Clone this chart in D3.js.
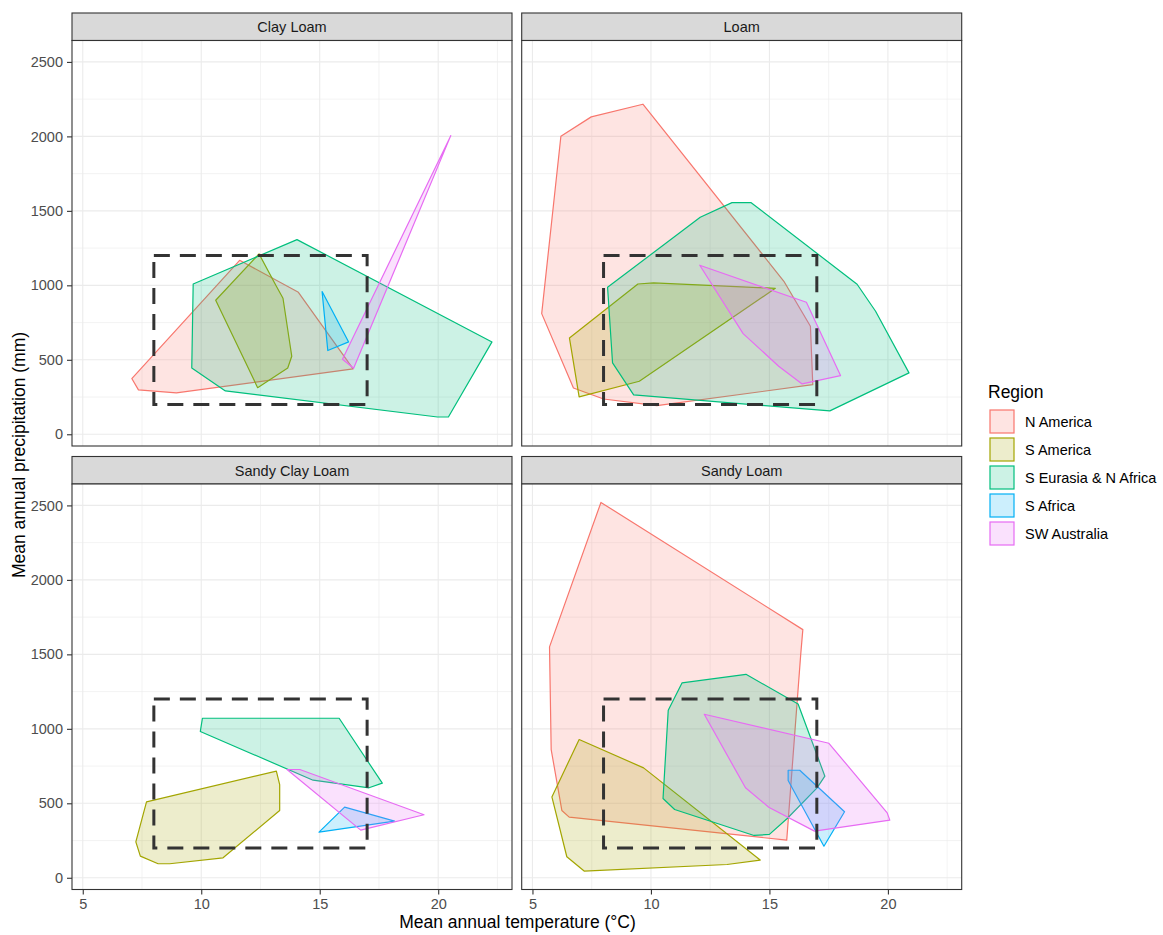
<!DOCTYPE html>
<html>
<head>
<meta charset="utf-8">
<script src="https://cdn.jsdelivr.net/npm/d3@7"></script>
<style>
    body { margin: 0; background: #fff; font-family: "Liberation Sans", Arial, sans-serif; }
</style>
</head>
<body>
<div id="chart"></div>
<script>
// soil texture facets and regions
var facets = ["Clay Loam", "Loam", "Sandy Clay Loam", "Sandy Loam"];
var regions = ["N America", "S America", "S Eurasia & N Africa", "S Africa", "SW Australia"];
var xTicks = [5, 10, 15, 20];
var yTicks = [0, 500, 1000, 1500, 2000, 2500];
var boxTemp = [8, 17];
var boxPrecip = [200, 1200];

// convex hulls [temperature, precipitation]
var hullsClayLoam = [
    { region: "N America", pts: [[7.07, 374], [7.35, 298], [8.95, 278], [16.41, 439], [14.10, 953], [11.62, 1168]] },
    { region: "S America", pts: [[10.61, 900], [12.44, 1211], [13.17, 994], [13.45, 913], [13.82, 524], [13.65, 445], [12.38, 313]] },
    { region: "S Eurasia & N Africa", pts: [[9.66, 1009], [14.04, 1307], [22.27, 620], [20.43, 116], [19.97, 116], [11.02, 291], [9.60, 445]] },
    { region: "S Africa", pts: [[15.10, 958], [16.22, 620], [15.34, 562]] },
    { region: "SW Australia", pts: [[15.96, 504], [16.43, 443], [20.53, 2005]] }
];
var hullsLoam = [
    { region: "N America", pts: [[5.39, 810], [6.20, 2001], [7.48, 2131], [9.66, 2216], [15.61, 1027], [16.73, 725], [16.83, 333], [10.25, 192], [8.0, 237], [6.73, 311]] },
    { region: "S America", pts: [[6.56, 647], [9.45, 1009], [10.11, 1016], [15.25, 980], [9.51, 356], [6.97, 251]] },
    { region: "S Eurasia & N Africa", pts: [[8.17, 987], [12.08, 1457], [13.42, 1555], [14.23, 1555], [18.70, 1007], [19.48, 826], [20.89, 412], [17.55, 157], [9.27, 264], [8.38, 479]] },
    { region: "SW Australia", pts: [[12.06, 1135], [16.56, 886], [18.0, 394], [16.38, 338], [15.39, 457], [13.89, 676]] }
];
var hullsSandyClayLoam = [
    { region: "S America", pts: [[7.69, 510], [13.17, 716], [13.31, 626], [13.31, 452], [10.92, 134], [8.67, 94], [8.18, 94], [7.43, 145], [7.24, 241]] },
    { region: "S Eurasia & N Africa", pts: [[9.96, 982], [10.05, 1071], [15.82, 1071], [17.64, 635], [17.08, 604], [14.72, 655]] },
    { region: "S Africa", pts: [[14.97, 306], [16.05, 474], [18.16, 380]] },
    { region: "SW Australia", pts: [[13.62, 727], [14.16, 727], [19.40, 423], [16.73, 320]] }
];
var hullsSandyLoam = [
    { region: "N America", pts: [[7.89, 2520], [16.41, 1666], [16.32, 1498], [15.73, 253], [6.55, 407], [6.24, 452], [5.79, 861], [5.72, 1550]] },
    { region: "S America", pts: [[6.97, 928], [9.69, 738], [14.61, 119], [13.21, 89], [7.18, 45], [6.45, 141], [5.82, 543]] },
    { region: "S Eurasia & N Africa", pts: [[11.31, 1308], [14.01, 1366], [16.21, 1167], [17.34, 682], [17.01, 604], [15.75, 398], [15.0, 291], [14.35, 284], [11.0, 458], [10.51, 532], [10.73, 1125]] },
    { region: "S Africa", pts: [[15.79, 722], [16.28, 722], [18.17, 443], [17.30, 212], [15.79, 653]] },
    { region: "SW Australia", pts: [[12.25, 1098], [17.51, 903], [19.97, 436], [20.08, 387], [16.90, 313], [14.97, 474], [13.99, 604]] }
];
var hullsByFacet = [hullsClayLoam, hullsLoam, hullsSandyClayLoam, hullsSandyLoam];

var outwidth = 1163,
    outheight = 935;
var panelW = 440,
    panelH = 405.5,
    stripH = 27.5;
var colX = [72, 521.7];
var rowY = [13, 456.5];
var smallFont = "14.5px",
    titleFont = "17.5px";
var color = d3.scaleOrdinal()
    .domain(regions)
    .range(["#F8766D", "#A3A500", "#00BF7D", "#00B0F6", "#E76BF3"]);

var svg = d3.select("#chart")
    .append("svg")
    .attr("width", outwidth)
    .attr("height", outheight)
    .style("font-family", "Liberation Sans, Arial, sans-serif");

// shared scales, 5% expansion like ggplot
var allPts = [[boxTemp[0], boxPrecip[0]], [boxTemp[1], boxPrecip[1]]];
hullsByFacet.forEach(h => h.forEach(d => d.pts.forEach(p => allPts.push(p))));
var xExt = d3.extent(allPts, d => d[0]);
var yExt = d3.extent(allPts, d => d[1]);
var xPad = (xExt[1] - xExt[0]) * 0.05,
    yPad = (yExt[1] - yExt[0]) * 0.05;
var x = d3.scaleLinear().domain([xExt[0] - xPad, xExt[1] + xPad]).range([0, panelW]);
var y = d3.scaleLinear().domain([yExt[0] - yPad, yExt[1] + yPad]).range([panelH, 0]);

var xMinor = [7.5, 12.5, 17.5, 22.5].filter(v => v >= x.domain()[0] && v <= x.domain()[1]);
var yMinor = [250, 750, 1250, 1750, 2250].filter(v => v >= y.domain()[0] && v <= y.domain()[1]);

var line = d3.line().x(d => x(d[0])).y(d => y(d[1]));

facets.forEach(function (name, i) {
    var col = i % 2, row = Math.floor(i / 2);
    var g = svg.append("g")
        .attr("transform", `translate(${colX[col]},${rowY[row]})`);

    // strip
    g.append("rect")
        .attr("x", 0).attr("y", 0)
        .attr("width", panelW).attr("height", stripH)
        .attr("fill", "#D9D9D9")
        .attr("stroke", "#333333")
        .attr("stroke-width", 1.1);
    g.append("text")
        .attr("x", panelW / 2)
        .attr("y", 19.3)
        .attr("text-anchor", "middle")
        .style("font-size", smallFont)
        .attr("fill", "#1A1A1A")
        .text(name);

    var p = g.append("g").attr("transform", `translate(0,${stripH})`);
    p.append("rect")
        .attr("width", panelW).attr("height", panelH)
        .attr("fill", "#fff");

    // grid
    p.selectAll(".gx-minor").data(xMinor).join("line")
        .attr("x1", d => x(d)).attr("x2", d => x(d))
        .attr("y1", 0).attr("y2", panelH)
        .attr("stroke", "#EBEBEB").attr("stroke-width", 0.6);
    p.selectAll(".gy-minor").data(yMinor).join("line")
        .attr("y1", d => y(d)).attr("y2", d => y(d))
        .attr("x1", 0).attr("x2", panelW)
        .attr("stroke", "#EBEBEB").attr("stroke-width", 0.6);
    p.selectAll(".gx").data(xTicks).join("line")
        .attr("x1", d => x(d)).attr("x2", d => x(d))
        .attr("y1", 0).attr("y2", panelH)
        .attr("stroke", "#EBEBEB").attr("stroke-width", 1.1);
    p.selectAll(".gy").data(yTicks).join("line")
        .attr("y1", d => y(d)).attr("y2", d => y(d))
        .attr("x1", 0).attr("x2", panelW)
        .attr("stroke", "#EBEBEB").attr("stroke-width", 1.1);

    // hulls
    p.selectAll(".hull")
        .data(hullsByFacet[i])
        .join("path")
        .attr("class", "hull")
        .attr("d", d => line(d.pts) + "Z")
        .attr("fill", d => color(d.region))
        .attr("fill-opacity", 0.2)
        .attr("stroke", d => color(d.region))
        .attr("stroke-width", 1.2)
        .attr("stroke-linejoin", "round");

    // climate box
    p.append("rect")
        .attr("x", x(boxTemp[0]))
        .attr("y", y(boxPrecip[1]))
        .attr("width", x(boxTemp[1]) - x(boxTemp[0]))
        .attr("height", y(boxPrecip[0]) - y(boxPrecip[1]))
        .attr("fill", "none")
        .attr("stroke", "#333333")
        .attr("stroke-width", 3)
        .attr("stroke-dasharray", "16 10");

    p.append("rect")
        .attr("width", panelW).attr("height", panelH)
        .attr("fill", "none")
        .attr("stroke", "#333333")
        .attr("stroke-width", 1.1);

    if (row === 1) {
        var xa = p.append("g")
            .attr("transform", `translate(0,${panelH})`)
            .call(d3.axisBottom(x).tickValues(xTicks).tickFormat(d3.format("d")).tickSize(5).tickPadding(4));
        xa.select(".domain").remove();
        xa.selectAll("line").attr("stroke", "#333333").attr("stroke-width", 1.1);
        xa.selectAll("text").style("font-size", smallFont).attr("fill", "#4D4D4D")
            .style("font-family", "Liberation Sans, Arial, sans-serif");
    }
    if (col === 0) {
        var ya = p.append("g")
            .call(d3.axisLeft(y).tickValues(yTicks).tickFormat(d3.format("d")).tickSize(5).tickPadding(4));
        ya.select(".domain").remove();
        ya.selectAll("line").attr("stroke", "#333333").attr("stroke-width", 1.1);
        ya.selectAll("text").style("font-size", smallFont).attr("fill", "#4D4D4D")
            .style("font-family", "Liberation Sans, Arial, sans-serif");
    }
});

// axis titles
svg.append("text")
    .attr("x", 517.5)
    .attr("y", 927.5)
    .attr("text-anchor", "middle")
    .style("font-size", titleFont)
    .text("Mean annual temperature (°C)");
svg.append("text")
    .attr("transform", "translate(24.5,455) rotate(-90)")
    .attr("text-anchor", "middle")
    .style("font-size", titleFont)
    .text("Mean annual precipitation (mm)");

// legend
var legend = svg.append("g").attr("transform", "translate(988,0)");
legend.append("text")
    .attr("x", 0).attr("y", 398)
    .style("font-size", titleFont)
    .text("Region");
var keys = legend.selectAll(".key")
    .data(regions)
    .join("g")
    .attr("class", "key")
    .attr("transform", (d, i) => `translate(0,${409 + i * 28})`);
keys.append("rect")
    .attr("x", 2).attr("y", 1)
    .attr("width", 24).attr("height", 23)
    .attr("fill", d => color(d))
    .attr("fill-opacity", 0.2)
    .attr("stroke", d => color(d))
    .attr("stroke-width", 1.2);
keys.append("text")
    .attr("x", 37).attr("y", 18)
    .style("font-size", smallFont)
    .text(d => d);
</script>
</body>
</html>
